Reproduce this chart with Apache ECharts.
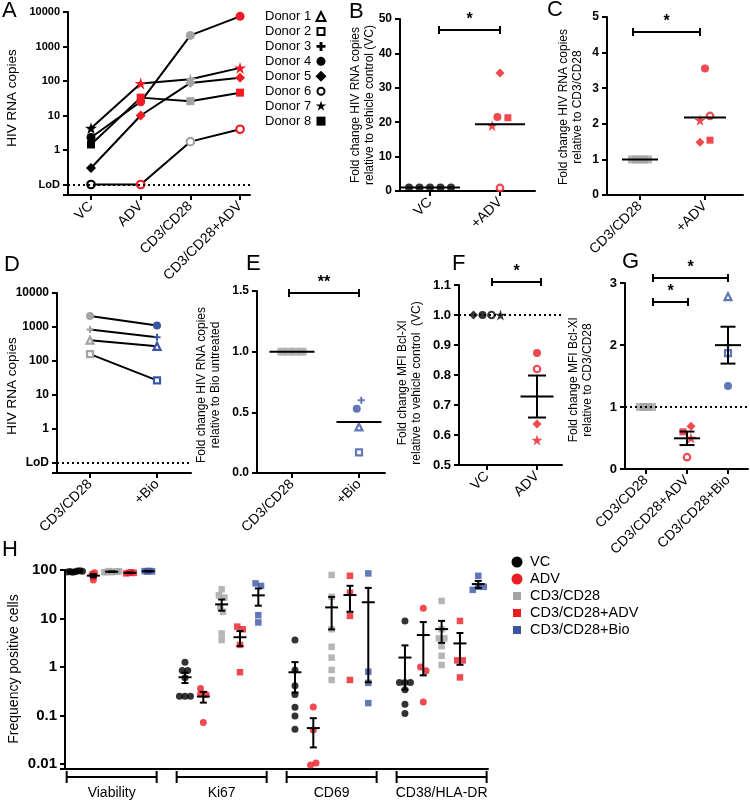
<!DOCTYPE html>
<html><head><meta charset="utf-8">
<script src="https://cdn.jsdelivr.net/npm/echarts@6/dist/echarts.min.js"></script>
<style>html,body{margin:0;padding:0;background:#fff}#c{width:750px;height:804px}</style>
</head><body><div id="c"></div>
<script>
// ================= DATA =================
const LOD = 0.1;
// Panel A (HIV RNA copies per donor)
const aConditions = ['VC', 'ADV', 'CD3/CD28', 'CD3/CD28+ADV'];
const aDonorIds = [4, 5, 6, 7, 8];
const aDonor4 = [2.3, 25, 2100, 7500];
const aDonor5 = [0.3, 10, 88, 125];
const aDonor6 = [LOD, LOD, 1.75, 4.0];
const aDonor7 = [4.3, 85, 112, 240];
const aDonor8 = [1.45, 33, 26, 46];
const donorLegend = ['Donor 1', 'Donor 2', 'Donor 3', 'Donor 4', 'Donor 5', 'Donor 6', 'Donor 7', 'Donor 8'];
// Panel B
const bConditions = ['VC', '+ADV'];
const bDonorIds = [4, 5, 8, 7, 6];
const bVC = [1, 1, 1, 1, 1];
const bADV = [21.5, 34.3, 21.3, 19.0, 0.9];
// Panel C
const cConditions = ['CD3/CD28', '+ADV'];
const cDonorIds = [4, 5, 8, 7, 6];
const cCD3 = [1, 1, 1, 1, 1];
const cADV = [3.55, 1.48, 1.54, 2.1, 2.22];
// Panel D
const dConditions = ['CD3/CD28', '+Bio'];
const dDonorIds = [4, 3, 1, 2];
const dCD3 = [2100, 850, 410, 160];
const dBio = [1100, 500, 270, 27];
// Panel E
const eConditions = ['CD3/CD28', '+Bio'];
const eDonorIds = [4, 3, 1, 2];
const eCD3 = [1, 1, 1, 1];
const eBio = [0.53, 0.6, 0.38, 0.17];
// Panel F
const fConditions = ['VC', 'ADV'];
const fDonorIds = [4, 6, 5, 7];
const fVC = [1, 1, 1, 1];
const fADV = [0.873, 0.82, 0.637, 0.583];
// Panel G
const gConditions = ['CD3/CD28', 'CD3/CD28+ADV', 'CD3/CD28+Bio'];
const gCD3 = [1, 1, 1, 1];
const gADVDonorIds = [8, 5, 7, 6];
const gADV = [0.6, 0.69, 0.5, 0.19];
const gBioDonorIds = [1, 2, 3, 4];
const gBio = [2.78, 1.87, 2.0, 1.34];
// Panel H (frequency positive cells), rows = conditions
const hGroups = ['Viability', 'Ki67', 'CD69', 'CD38/HLA-DR'];
const hConditions = ['VC', 'ADV', 'CD3/CD28', 'CD3/CD28+ADV', 'CD3/CD28+Bio'];
const hViability = [
  [92, 95, 90, 96, 93, 94, 91],
  [83, 88, 62, 73],
  [90, 92, 95, 93, 91, 94, 90],
  [88, 90, 85, 87],
  [93, 96, 95, 94]
];
const hKi67 = [
  [1.25, 0.85, 0.85, 0.6, 0.25, 0.25, 0.25],
  [0.28, 0.27, 0.36, 0.072],
  [40, 30, 27, 17.5, 13.8, 4.9, 3.6],
  [6.8, 6, 2.85, 0.78],
  [53, 47, 11.7, 8.3]
];
const hCD69 = [
  [3.6, 0.87, 0.41, 0.27, 0.148, 0.098, 0.052],
  [0.15, 0.05, 0.0095, 0.0105],
  [79, 28, 6, 2.6, 1.56, 0.87, 0.54],
  [76, 34, 11.3, 0.54],
  [85, 0.8, 0.47, 0.18]
];
const hCD38 = [
  [8.9, 0.48, 0.48, 0.48, 0.34, 0.17, 0.11],
  [16.2, 1.0, 0.84, 0.19],
  [23, 6.0, 3.9, 3.9, 2.7, 1.7, 1.1],
  [8.9, 1.37, 1.37, 0.61],
  [76, 45, 45, 39]
];

// ================= STYLE / LAYOUT =================
const FONT = '"Liberation Sans", Arial, Helvetica, sans-serif';
const RED = '#ec1c24', GRAY = '#a3a3a3', BLUE = '#3b55a5', BLACK = '#000000';
const STAR = 'path://M50,0L61.2,34.5L97.6,34.5L68.2,55.9L79.4,90.5L50,69.1L20.6,90.5L31.8,55.9L2.4,34.5L38.8,34.5Z';
const PLUS = 'path://M36,0H64V36H100V64H64V100H36V64H0V36H36Z';
const DONOR_SHAPE = {1: 'triangleOpen', 2: 'squareOpen', 3: 'plus', 4: 'circle', 5: 'diamond', 6: 'circleOpen', 7: 'star', 8: 'square'};

const P = [
  {left: 68, top: 12, width: 182, height: 183, xmin: -0.463, xmax: 3.2, ymin: 0.0497, ymax: 10000, log: true, yfs: 11},
  {left: 400, top: 19, width: 135, height: 172, xmin: -0.4286, xmax: 1.5, ymin: 0, ymax: 50, yint: 10, yfs: 12, dec: 0},
  {left: 607, top: 17, width: 136, height: 178, xmin: -0.508, xmax: 1.585, ymin: 0, ymax: 5, yint: 1, yfs: 12, dec: 0},
  {left: 57, top: 293, width: 134, height: 180, xmin: -0.4925, xmax: 1.507, ymin: 0.0508, ymax: 10000, log: true, yfs: 12},
  {left: 257, top: 291, width: 128, height: 182, xmin: -0.522, xmax: 1.388, ymin: 0, ymax: 1.5, yint: 0.5, yfs: 12, dec: 1},
  {left: 459, top: 285, width: 103, height: 180, xmin: -0.56, xmax: 1.5, ymin: 0.5, ymax: 1.1, yint: 0.1, yfs: 13, dec: 1},
  {left: 625, top: 283, width: 123, height: 186, xmin: -0.512, xmax: 2.488, ymin: 0, ymax: 3, yint: 1, yfs: 13, dec: 0},
  {left: 65, top: 570, width: 423, height: 199, xmin: -0.5455, xmax: 22.53, ymin: 0.00788, ymax: 100, log: true, yfs: 15}
];

function yToPx(p, v) {
  const f = p.log ? (Math.log10(v) - Math.log10(p.ymin)) / (Math.log10(p.ymax) - Math.log10(p.ymin))
                  : (v - p.ymin) / (p.ymax - p.ymin);
  return p.top + p.height * (1 - f);
}
function pxPerX(p) { return p.width / (p.xmax - p.xmin); }
function xToPx(p, x) { return p.left + (x - p.xmin) * pxPerX(p); }

function symStyle(shape, color, size) {
  switch (shape) {
    case 'circle': return {symbol: 'circle', symbolSize: size, itemStyle: {color}};
    case 'circleOpen': return {symbol: 'circle', symbolSize: size - 1.5, itemStyle: {color: '#fff', borderColor: color, borderWidth: 2.2}};
    case 'square': return {symbol: 'rect', symbolSize: size - 1, itemStyle: {color}};
    case 'squareOpen': return {symbol: 'rect', symbolSize: size - 2, itemStyle: {color: '#fff', borderColor: color, borderWidth: 2.2}};
    case 'triangleOpen': return {symbol: 'triangle', symbolSize: size - 1, itemStyle: {color: '#fff', borderColor: color, borderWidth: 2.2}};
    case 'diamond': return {symbol: 'diamond', symbolSize: size + 1, itemStyle: {color}};
    case 'star': return {symbol: STAR, symbolSize: size + 3, itemStyle: {color}};
    case 'plus': return {symbol: PLUS, symbolSize: size - 1, itemStyle: {color}};
  }
}

function swarmOffsets(values, yPx, gap) {
  const n = values.length;
  const ys = values.map(yPx);
  const order = ys.map((y, i) => i).sort((a, b) => ys[a] - ys[b]);
  const clusters = [];
  let cur = [order[0]];
  for (let k = 1; k < n; k++) {
    if (ys[order[k]] - ys[order[k - 1]] < gap) cur.push(order[k]);
    else { clusters.push(cur); cur = [order[k]]; }
  }
  clusters.push(cur);
  const off = new Array(n).fill(0);
  clusters.forEach(cl => {
    const members = cl.slice().sort((a, b) => a - b);
    const placed = [];
    members.forEach(i => {
      for (let k = 0; k < 60; k++) {
        const o = (k % 2 ? 1 : -1) * Math.ceil(k / 2) * gap / 2;
        if (placed.every(q => Math.hypot(q.o - o, q.y - ys[i]) >= gap * 0.95)) {
          off[i] = o; placed.push({o, y: ys[i]}); break;
        }
      }
    });
    const offs = cl.map(i => off[i]);
    const c = (Math.min(...offs) + Math.max(...offs)) / 2;
    cl.forEach(i => { off[i] -= c; });
  });
  return off;
}

const mean = a => a.reduce((s, v) => s + v, 0) / a.length;
const sem = a => { const m = mean(a); return Math.sqrt(a.reduce((s, v) => s + (v - m) * (v - m), 0) / (a.length - 1)) / Math.sqrt(a.length); };

// ================= AXES =================
const grids = P.map(p => ({left: p.left, top: p.top, width: p.width, height: p.height, containLabel: false, outerBoundsMode: 'none'}));
const xCats = [aConditions, bConditions, cConditions, dConditions, eConditions, fConditions, gConditions, []];

function yFmt(p) {
  if (p.log) {
    return v => {
      const l = Math.log10(v);
      if (Math.abs(l - Math.round(l)) > 1e-6) return '';
      if (p === P[0] || p === P[3]) {
        if (Math.round(l) === -1) return 'LoD';
        return l >= 0 ? String(Math.round(v)) : '';
      }
      return l >= 0 ? String(Math.round(v)) : String(Number(v.toPrecision(1)));
    };
  }
  return v => v.toFixed(p.dec);
}

const xAxes = P.map((p, gi) => {
  const cats = xCats[gi];
  const vals = cats.map((_, i) => i);
  return {
    gridIndex: gi, type: 'value', min: p.xmin, max: p.xmax,
    axisLine: {show: true, onZero: false, lineStyle: {color: '#000', width: 2}},
    splitLine: {show: false},
    axisTick: {show: cats.length > 0, length: 5, customValues: vals, lineStyle: {color: '#000', width: 2}},
    axisLabel: {show: cats.length > 0, customValues: vals, formatter: v => cats[Math.round(v)] || '',
      rotate: 45, fontSize: 14, color: '#000', fontFamily: FONT, margin: 9}
  };
});
const yAxes = P.map((p, gi) => {
  const a = {
    gridIndex: gi, type: p.log ? 'log' : 'value', min: p.ymin, max: p.ymax,
    axisLine: {show: true, onZero: false, lineStyle: {color: '#000', width: 2}},
    axisTick: {show: true, length: 5, lineStyle: {color: '#000', width: 2}},
    splitLine: {show: false},
    axisLabel: {color: '#000', fontWeight: 'bold', fontSize: p.yfs, fontFamily: FONT, margin: 8, formatter: yFmt(p)}
  };
  if (p.log) a.logBase = 10; else a.interval = p.yint;
  return a;
});

// ================= SERIES =================
const series = [];
const dotted = (val) => ({silent: true, symbol: ['none', 'none'], label: {show: false},
  lineStyle: {type: [2, 3], color: '#000', width: 2}, emphasis: {disabled: true}, data: [{yAxis: val}]});

function lineDonors(gi, ids, rows, colors, size, withLod) {
  ids.forEach((id, k) => {
    series.push({
      type: 'line', xAxisIndex: gi, yAxisIndex: gi, z: 3, name: 'Donor ' + id,
      lineStyle: {color: '#000', width: 2}, clip: false,
      data: rows[k].map((v, i) => Object.assign({value: [i, v]}, symStyle(DONOR_SHAPE[id], colors[i], size))),
      markLine: (withLod && k === 0) ? dotted(LOD) : undefined
    });
  });
}

function scatterDonors(gi, xi, ids, vals, color, size, gap, fixedShape, extra) {
  const p = P[gi];
  const offs = swarmOffsets(vals, v => yToPx(p, v), gap);
  const s = Object.assign({
    type: 'scatter', xAxisIndex: gi, yAxisIndex: gi, z: 4,
    data: vals.map((v, k) => Object.assign({value: [xi + offs[k] / pxPerX(p), v]},
      symStyle(fixedShape || DONOR_SHAPE[ids[k]], color, size)))
  }, extra || {});
  series.push(s);
}

function meanSeries(gi, items, halfMean, halfCap, showErr) {
  series.push({
    type: 'custom', xAxisIndex: gi, yAxisIndex: gi, z: 6, silent: true,
    data: items,
    renderItem: (params, api) => {
      const x = api.value(0), m = api.value(1), lo = api.value(2), hi = api.value(3);
      const pm = api.coord([x, m]);
      const st = {stroke: '#000', lineWidth: 2};
      const ch = [{type: 'line', shape: {x1: pm[0] - halfMean, y1: pm[1], x2: pm[0] + halfMean, y2: pm[1]}, style: st}];
      if (showErr) {
        const pl = api.coord([x, lo]), ph = api.coord([x, hi]);
        ch.push({type: 'line', shape: {x1: pm[0], y1: pl[1], x2: pm[0], y2: ph[1]}, style: st});
        ch.push({type: 'line', shape: {x1: pm[0] - halfCap, y1: pl[1], x2: pm[0] + halfCap, y2: pl[1]}, style: st});
        ch.push({type: 'line', shape: {x1: pm[0] - halfCap, y1: ph[1], x2: pm[0] + halfCap, y2: ph[1]}, style: st});
      }
      return {type: 'group', children: ch};
    }
  });
}
const mItem = (x, a) => { const m = mean(a), s = sem(a); return [x, m, m - s, m + s]; };

// A
lineDonors(0, aDonorIds, [aDonor4, aDonor5, aDonor6, aDonor7, aDonor8], [BLACK, RED, GRAY, RED], 9, true);
// B
scatterDonors(1, 0, bDonorIds, bVC, BLACK, 8, 10.5, 'circle');
scatterDonors(1, 1, bDonorIds, bADV, RED, 8, 10.5);
meanSeries(1, [mItem(0, bVC)], 30, 0, false);
meanSeries(1, [mItem(1, bADV)], 25, 0, false);
// C
scatterDonors(2, 0, cDonorIds, cCD3, GRAY, 9, 4, 'square');
scatterDonors(2, 1, cDonorIds, cADV, RED, 8, 10);
meanSeries(2, [mItem(0, cCD3)], 18, 0, false);
meanSeries(2, [mItem(1, cADV)], 21, 0, false);
// D
lineDonors(3, dDonorIds, dDonorIds.map((_, k) => [dCD3[k], dBio[k]]), [GRAY, BLUE], 8, true);
// E
scatterDonors(4, 0, eDonorIds, eCD3, GRAY, 9, 7, 'square');
scatterDonors(4, 1, eDonorIds, eBio, BLUE, 8, 9);
meanSeries(4, [mItem(0, eCD3), mItem(1, eBio)], 22.5, 0, false);
// F
scatterDonors(5, 0, fDonorIds, fVC, BLACK, 8, 9, null, {markLine: dotted(1)});
scatterDonors(5, 1, fDonorIds, fADV, RED, 8, 9);
meanSeries(5, [mItem(1, fADV)], 16.5, 9, true);
// G
scatterDonors(6, 0, gBioDonorIds, gCD3, GRAY, 9, 4, 'square', {markLine: dotted(1)});
scatterDonors(6, 1, gADVDonorIds, gADV, RED, 8, 8);
scatterDonors(6, 2, gBioDonorIds, gBio, BLUE, 8, 8);
meanSeries(6, [mItem(1, gADV), mItem(2, gBio)], 13, 7.5, true);
// H
const hGroupData = [hViability, hKi67, hCD69, hCD38];
const hGaps = [2.5, 5.5, 5.5, 5.5];
const hSymbols = ['circle', 'circle', 'rect', 'rect', 'rect'];
const hColors = [BLACK, RED, GRAY, RED, BLUE];
const hMeans = [];
hConditions.forEach((c, ci) => {
  const data = [];
  hGroupData.forEach((grp, g) => {
    const vals = grp[ci];
    const offs = swarmOffsets(vals, v => yToPx(P[7], v), hGaps[g]);
    vals.forEach((v, k) => data.push([g * 6 + ci + offs[k] / pxPerX(P[7]), v]));
    hMeans.push(mItem(g * 6 + ci, vals));
  });
  series.push({type: 'scatter', name: c, xAxisIndex: 7, yAxisIndex: 7, z: 4,
    symbol: hSymbols[ci], symbolSize: ci < 2 ? 7 : 6.5, itemStyle: {color: hColors[ci]}, data});
});
meanSeries(7, hMeans, 6.5, 3.5, true);

// ================= GRAPHIC (annotations) =================
const graphic = [];
const txt = (x, y, text, size, opts) => graphic.push(Object.assign({
  type: 'text', x, y, silent: true,
  style: Object.assign({text, fontSize: size, fontFamily: FONT, fill: '#000', align: 'center', verticalAlign: 'middle'}, (opts && opts.style) || {})
}, (opts && opts.el) || {}));
const ln = (x1, y1, x2, y2) => graphic.push({type: 'line', silent: true, shape: {x1, y1, x2, y2}, style: {stroke: '#000', lineWidth: 2}});

// panel letters
[['A', 2, 11], ['B', 349, 12], ['C', 547, 10], ['D', 4, 265], ['E', 246, 264], ['F', 452, 264], ['G', 622, 262], ['H', 2, 550]]
  .forEach(([t, x, y]) => txt(x, y, t, 22, {style: {align: 'left'}}));

// axis titles (rotated)
const vt = (x, y, text, size) => txt(x, y, text, size, {el: {rotation: Math.PI / 2}, style: {lineHeight: 14}});
vt(12, 98, 'HIV RNA copies', 13.5);
vt(363, 105, 'Fold change HIV RNA copies\nrelative to vehicle control (VC)', 12);
vt(571, 107, 'Fold change HIV RNA copies\nrelative to CD3/CD28', 12);
vt(12, 386, 'HIV RNA copies', 13.5);
vt(209, 385, 'Fold change HIV RNA copies\nrelative to Bio untreated', 12);
vt(410, 383, 'Fold change MFI Bcl-Xl\nrelative to vehicle control  (VC)', 12);
vt(581, 380, 'Fold change MFI Bcl-Xl\nrelative to CD3/CD28', 12);
vt(14, 669, 'Frequency positive cells', 14);

// significance bars
function sig(x1, x2, y, label) {
  ln(x1, y, x2, y); ln(x1, y - 4, x1, y + 4); ln(x2, y - 4, x2, y + 4);
  txt((x1 + x2) / 2, y - 10, label, 16, {style: {fontWeight: 'bold'}});
}
sig(439, 500, 30, '*');
sig(633, 700, 32, '*');
sig(289, 359, 293, '**');
sig(492, 541, 282, '*');
sig(653, 728, 278, '*');
sig(653, 688, 302, '*');

// donor legend (panel A)
function gSymbol(shape, cx, cy, s, color) {
  const h = s / 2;
  const fill = {fill: color}, open = {fill: '#fff', stroke: color, lineWidth: 2};
  let el;
  switch (shape) {
    case 'circle': el = {type: 'circle', shape: {cx, cy, r: h}, style: fill}; break;
    case 'circleOpen': el = {type: 'circle', shape: {cx, cy, r: h - 1}, style: open}; break;
    case 'square': el = {type: 'rect', shape: {x: cx - h, y: cy - h, width: s, height: s}, style: fill}; break;
    case 'squareOpen': el = {type: 'rect', shape: {x: cx - h + 1, y: cy - h + 1, width: s - 2, height: s - 2}, style: open}; break;
    case 'triangleOpen': el = {type: 'polygon', shape: {points: [[cx, cy - h], [cx + h, cy + h], [cx - h, cy + h]]}, style: open}; break;
    case 'diamond': el = {type: 'polygon', shape: {points: [[cx, cy - h - 1], [cx + h + 1, cy], [cx, cy + h + 1], [cx - h - 1, cy]]}, style: fill}; break;
    case 'star': {
      const pts = [];
      for (let i = 0; i < 10; i++) { const r = i % 2 ? h * 0.45 : h + 1; const a = -Math.PI / 2 + i * Math.PI / 5; pts.push([cx + r * Math.cos(a), cy + r * Math.sin(a)]); }
      el = {type: 'polygon', shape: {points: pts}, style: fill}; break;
    }
    case 'plus': {
      const t = h * 0.32;
      el = {type: 'polygon', shape: {points: [[cx - t, cy - h], [cx + t, cy - h], [cx + t, cy - t], [cx + h, cy - t], [cx + h, cy + t], [cx + t, cy + t], [cx + t, cy + h], [cx - t, cy + h], [cx - t, cy + t], [cx - h, cy + t], [cx - h, cy - t], [cx - t, cy - t]]}, style: fill}; break;
    }
  }
  el.silent = true;
  graphic.push(el);
}
donorLegend.forEach((name, i) => {
  const y = 16.5 + i * 14.95;
  txt(265, y, name, 13, {style: {align: 'left'}});
  gSymbol(DONOR_SHAPE[i + 1], 321, y, 9, BLACK);
});

// H legend
hConditions.forEach((name, i) => {
  const y = 562 + i * 17;
  if (i < 2) gSymbol('circle', 517, y, 11, hColors[i]);
  else gSymbol('square', 517, y, 8, hColors[i]);
  txt(530, y, name, 14.5, {style: {align: 'left'}});
});

// H group brackets
hGroups.forEach((name, g) => {
  const cx = xToPx(P[7], g * 6 + 2);
  const x1 = cx - 45, x2 = cx + 45;
  ln(x1, 777, x2, 777); ln(x1, 771, x1, 783); ln(x2, 771, x2, 783);
  txt(cx, 793, name, 14);
});

const chart = echarts.init(document.getElementById('c'), null, {renderer: 'canvas'});
chart.setOption({
  animation: false,
  backgroundColor: '#fff',
  textStyle: {fontFamily: FONT},
  grid: grids, xAxis: xAxes, yAxis: yAxes, series, graphic
});
</script>
</body></html>
